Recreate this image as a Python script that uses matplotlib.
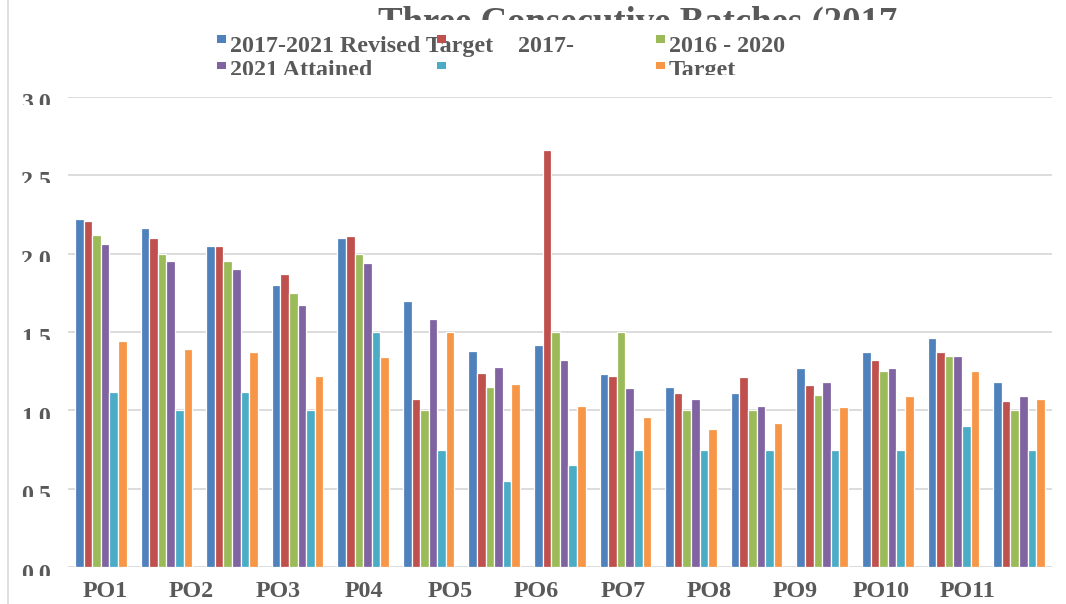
import matplotlib
matplotlib.use('Agg')
import matplotlib.pyplot as plt
import matplotlib.transforms as mtransforms
from matplotlib.patches import Rectangle
from matplotlib.lines import Line2D
import numpy as np

plt.rc('font', family='Liberation Serif', weight='bold')

# six series per group, 15 groups
revised_target = [2.22, 2.16, 2.05, 1.80, 2.10, 1.70, 1.38, 1.42, 1.23, 1.15, 1.11, 1.27, 1.37, 1.46, 1.18]
s_2017 = [2.21, 2.10, 2.05, 1.87, 2.11, 1.07, 1.24, 2.66, 1.22, 1.11, 1.21, 1.16, 1.32, 1.37, 1.06]
s_2016_2020 = [2.12, 2.00, 1.95, 1.75, 2.00, 1.00, 1.15, 1.50, 1.50, 1.00, 1.00, 1.10, 1.25, 1.35, 1.00]
attained_2021 = [2.06, 1.95, 1.90, 1.67, 1.94, 1.58, 1.28, 1.32, 1.14, 1.07, 1.03, 1.18, 1.27, 1.35, 1.09]
unnamed = [1.12, 1.00, 1.12, 1.00, 1.50, 0.75, 0.55, 0.65, 0.75, 0.75, 0.75, 0.75, 0.75, 0.90, 0.75]
target = [1.44, 1.39, 1.37, 1.22, 1.34, 1.50, 1.17, 1.03, 0.96, 0.88, 0.92, 1.02, 1.09, 1.25, 1.07]

series = [revised_target, s_2017, s_2016_2020, attained_2021, unnamed, target]
series_labels = ["2017-2021 Revised Target", "2017-", "2016 - 2020", "2021 Attained", "", "Target"]
colors = ['#4F81BD', '#C0504D', '#9BBB59', '#8064A2', '#4BACC6', '#F79646']

po_labels = ["PO1", "PO2", "PO3", "P04", "PO5", "PO6", "PO7", "PO8", "PO9", "PO10", "PO11"]
y_ticks = [0.0, 0.5, 1.0, 1.5, 2.0, 2.5, 3.0]

W, H = 1066, 604
txt_col = '#595959'
grid_col = '#D9D9D9'

fig = plt.figure(figsize=(W / 100, H / 100), dpi=100)
ax = fig.add_axes([68 / W, 1 - 567.3 / H, (1051.7 - 68) / W, (567.3 - 96.7) / H])

x = np.arange(len(revised_target))
bw = 0.131
for k, vals in enumerate(series):
    ax.bar(x + (k - 2.5) * bw, vals, bw, color=colors[k], edgecolor='white', linewidth=0.9, zorder=3)

ax.set_xlim(-0.5, len(x) - 0.5)
ax.set_ylim(0, 3.0)
ax.set_yticks(y_ticks)
ax.yaxis.grid(True, color=grid_col, linewidth=1.3, zorder=0)
ax.tick_params(axis='y', length=0, labelleft=False)
for s in ax.spines.values():
    s.set_visible(False)

# category labels sit on their own spacing along the axis
ax.set_xticks(0.07 + 1.315 * np.arange(len(po_labels)), po_labels)
ax.tick_params(axis='x', length=0, pad=9.6, labelsize=17.3, labelcolor=txt_col)

# y labels, cut off just under each gridline
ytr = mtransforms.blended_transform_factory(ax.transAxes, ax.transData)
yclip = mtransforms.blended_transform_factory(fig.transFigure, ax.transData)
for v in y_ticks:
    fig.text(0, v, "%.1f" % v, transform=mtransforms.offset_copy(ytr, fig=fig, x=-17.3, y=-12.2, units='dots'),
             ha='right', va='baseline', fontsize=17.3, color=txt_col,
             clip_box=mtransforms.TransformedBbox(mtransforms.Bbox([[0, v - 0.053], [1, v + 0.3]]), yclip))

def fx(px):
    return px / W

def fy(py):
    return 1 - py / H

# title, only its upper part shows
top_clip = mtransforms.Bbox.from_extents(0, H - 20, W, H)
fig.text(fx(378), fy(32.4), "Three Consecutive Batches (2017", fontsize=26.5, color=txt_col,
         ha='left', va='baseline', clip_box=top_clip)

# legend laid out by hand
marker_x = [217, 437, 656, 217, 437, 656]
text_x = [230, 518, 669, 230, 450, 669]
row_top = [35, 35, 35, 61.7, 61.7, 61.7]
row_base = [51.7, 51.7, 51.7, 76.2, 76.2, 76.2]
row2_clip = mtransforms.Bbox.from_extents(0, H - 75, W, H)
for k in range(6):
    fig.patches.append(Rectangle((fx(marker_x[k]), fy(row_top[k] + 7.5)), 9 / W, 7.5 / H,
                                 transform=fig.transFigure, facecolor=colors[k], edgecolor='none', zorder=5))
    fig.text(fx(text_x[k]), fy(row_base[k]), series_labels[k], fontsize=17.3, color=txt_col,
             ha='left', va='baseline', zorder=4, clip_box=row2_clip if k >= 3 else None)

fig.add_artist(Line2D([fx(7.5), fx(7.5)], [0, 1], transform=fig.transFigure, color=grid_col, linewidth=1.2))

fig.savefig('out.png', dpi=100)
